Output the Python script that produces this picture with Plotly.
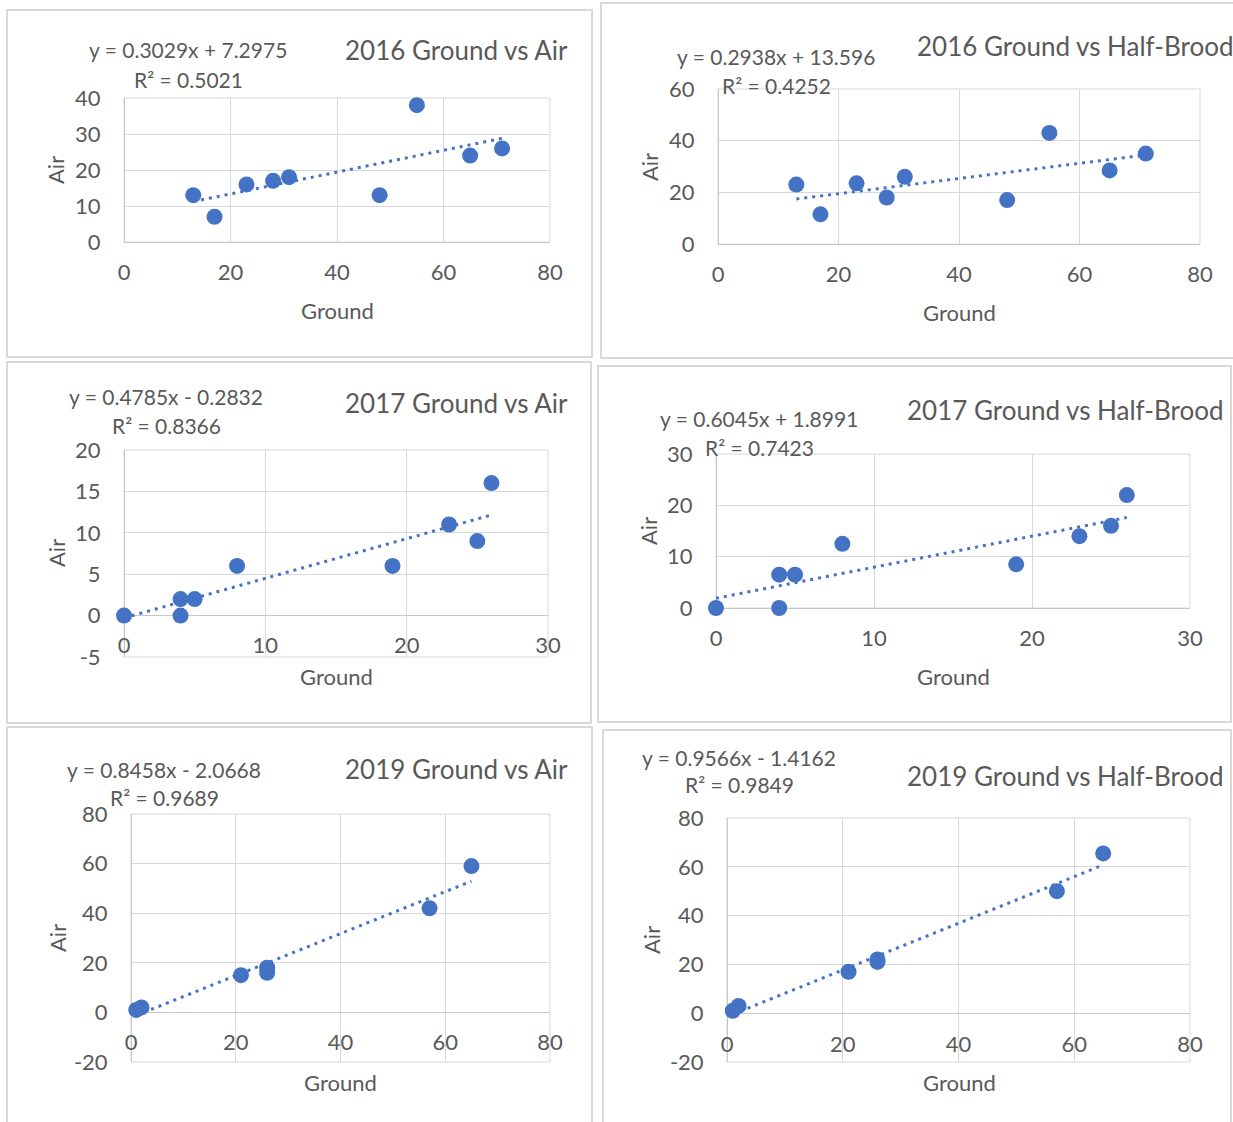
import numpy as np
import plotly.graph_objects as go

W, H = 1233, 1122

# ---------------- data ----------------
ground_2016 = [13, 17, 23, 28, 31, 48, 55, 65, 71]
air_2016 = [13, 7, 16, 17, 18, 13, 38, 24, 26]
halfbrood_2016 = [23, 11.5, 23.5, 18, 26, 17, 43, 28.5, 35]

ground_2017 = [0, 4, 4, 5, 8, 19, 23, 25, 26]
air_2017 = [0, 2, 0, 2, 6, 6, 11, 9, 16]
halfbrood_2017 = [0, 6.5, 0, 6.5, 12.5, 8.5, 14, 16, 22]

ground_2019 = [1, 2, 21, 26, 26, 57, 65]
air_2019 = [1, 2, 15, 18, 16, 42, 59]
halfbrood_2019 = [1, 3, 17, 21, 22, 50, 65.5]

titles = ["2016 Ground vs Air", "2016 Ground vs Half-Brood",
          "2017 Ground vs Air", "2017 Ground vs Half-Brood",
          "2019 Ground vs Air", "2019 Ground vs Half-Brood"]
equations = ["y = 0.3029x + 7.2975", "y = 0.2938x + 13.596",
             "y = 0.4785x - 0.2832", "y = 0.6045x + 1.8991",
             "y = 0.8458x - 2.0668", "y = 0.9566x - 1.4162"]
r_squared = ["R² = 0.5021", "R² = 0.4252", "R² = 0.8366",
             "R² = 0.7423", "R² = 0.9689", "R² = 0.9849"]
x_title = "Ground"
y_title = "Air"

# tick values / labels per panel
x_ticks_80 = [0, 20, 40, 60, 80]
x_ticks_30 = [0, 10, 20, 30]
y_ticks_p1 = [0, 10, 20, 30, 40]
y_ticks_p2 = [0, 20, 40, 60]
y_ticks_p3 = [-5, 0, 5, 10, 15, 20]
y_ticks_p4 = [0, 10, 20, 30]
y_ticks_p56 = [-20, 0, 20, 40, 60, 80]

series = [(ground_2016, air_2016), (ground_2016, halfbrood_2016),
          (ground_2017, air_2017), (ground_2017, halfbrood_2017),
          (ground_2019, air_2019), (ground_2019, halfbrood_2019)]
xticks = [x_ticks_80, x_ticks_80, x_ticks_30, x_ticks_30, x_ticks_80, x_ticks_80]
yticks = [y_ticks_p1, y_ticks_p2, y_ticks_p3, y_ticks_p4, y_ticks_p56, y_ticks_p56]

# ---------------- layout (pixel geometry) ----------------
geo = [
    dict(px=(124, 550), py=(98, 242), ax0=242,
         box=(7, 10, 592, 357), t=(456, 50), e=(188, 50), r=(188, 79), gx=(337, 311), ay=(56, 170)),
    dict(px=(718, 1200), py=(89, 244), ax0=244,
         box=(601, 3, 1240, 358), t=(1075, 46), e=(776, 56), r=(776, 85), gx=(959, 312), ay=(650, 167)),
    dict(px=(124, 548), py=(450, 657), ax0=615,
         box=(7, 362, 591, 723), t=(456, 403), e=(166, 396), r=(166, 425), gx=(336, 676), ay=(56, 553)),
    dict(px=(716, 1190), py=(454, 608), ax0=608,
         box=(598, 366, 1231, 722), t=(1065, 410), e=(759, 418), r=(759, 447), gx=(953, 676), ay=(648, 531)),
    dict(px=(131, 550), py=(814, 1062), ax0=1012,
         box=(7, 727, 592, 1140), t=(456, 769), e=(164, 769), r=(164, 797), gx=(340, 1082), ay=(57, 938)),
    dict(px=(727, 1190), py=(818, 1062), ax0=1014,
         box=(603, 730, 1231, 1140), t=(1065, 776), e=(739, 757), r=(739, 785), gx=(959, 1082), ay=(651, 940)),
]

BLUE = "#4472C4"
GRAY_TXT = "#595959"
GRID = "#d9d9d9"
FONT = "Lato"
TICK_SIZE = 22

fig = go.Figure()
shapes = []
annotations = []


def fx(p):
    return p / W


def fy(p):
    return 1 - p / H


def lbl(v):
    return str(v)  # plain hyphen-minus like the original


for i, ((xs, ys), g) in enumerate(zip(series, geo)):
    n = "" if i == 0 else str(i + 1)
    xref, yref = "x" + n, "y" + n
    xs_a, ys_a = np.array(xs, float), np.array(ys, float)
    slope, intercept = np.polyfit(xs_a, ys_a, 1)
    tx = np.array([xs_a.min(), xs_a.max()])
    fig.add_trace(go.Scatter(x=tx, y=slope * tx + intercept, mode="lines",
                             line=dict(color=BLUE, width=3, dash="3px,5px"),
                             xaxis=xref, yaxis=yref, showlegend=False, hoverinfo="skip"))
    fig.add_trace(go.Scatter(x=xs, y=ys, mode="markers", cliponaxis=False,
                             marker=dict(color=BLUE, size=16),
                             xaxis=xref, yaxis=yref, showlegend=False))

    xt, yt = xticks[i], yticks[i]
    fig.layout["xaxis" + n] = dict(
        domain=[fx(g["px"][0]), fx(g["px"][1])], range=[xt[0], xt[-1]],
        tickmode="array", tickvals=xt, ticktext=[lbl(v) for v in xt],
        anchor="free", position=fy(g["ax0"]), automargin=False,
        showgrid=True, gridcolor=GRID, gridwidth=1,
        zeroline=True, zerolinecolor="#c8c8c8", zerolinewidth=1, showline=False,
        ticks="outside", ticklen=11, tickcolor="rgba(0,0,0,0)",
        tickfont=dict(family=FONT, size=TICK_SIZE, color=GRAY_TXT), fixedrange=True)
    fig.layout["yaxis" + n] = dict(
        domain=[fy(g["py"][1]), fy(g["py"][0])], range=[yt[0], yt[-1]],
        tickmode="array", tickvals=yt, ticktext=[lbl(v) for v in yt],
        anchor=xref, automargin=False,
        showgrid=True, gridcolor=GRID, gridwidth=1,
        zeroline=True, zerolinecolor="#c8c8c8", zerolinewidth=1, showline=False,
        ticks="outside", ticklen=18, tickcolor="rgba(0,0,0,0)",
        tickfont=dict(family=FONT, size=TICK_SIZE, color=GRAY_TXT), fixedrange=True)

    # plot-area frame
    shapes.append(dict(type="rect", xref=xref + " domain", yref=yref + " domain",
                       x0=0, x1=1, y0=0, y1=1, line=dict(color=GRID, width=1), layer="below"))
    # chart border
    bx0, by0, bx1, by1 = g["box"]
    shapes.append(dict(type="rect", xref="paper", yref="paper",
                       x0=fx(bx0), x1=fx(bx1), y0=fy(by1), y1=fy(by0),
                       line=dict(color="#d9d9d9", width=2)))

    def ann(text, xy, size, angle=0):
        annotations.append(dict(text=text, x=fx(xy[0]), y=fy(xy[1]), xref="paper", yref="paper",
                                xanchor="center", yanchor="middle", showarrow=False, textangle=angle,
                                font=dict(family=FONT, size=size, color=GRAY_TXT)))

    ann(titles[i], g["t"], 26)
    ann(equations[i], g["e"], 21)
    ann(r_squared[i], g["r"], 21)
    ann(x_title, g["gx"], 22)
    ann(y_title, g["ay"], 22, angle=-90)

fig.update_layout(width=W, height=H, margin=dict(l=0, r=0, t=0, b=0, pad=0, autoexpand=False),
                  paper_bgcolor="white", plot_bgcolor="white",
                  shapes=shapes, annotations=annotations, showlegend=False)

css_fix = (
    "var s=document.createElement('style');"
    "s.textContent='html,body{margin:0!important;padding:0!important;overflow:hidden!important;}"
    ".plotly-graph-div{position:absolute!important;left:0;top:0;}';"
    "document.head.appendChild(s);"
)
fig.write_html("out.html", config={"displayModeBar": False}, post_script=css_fix)
